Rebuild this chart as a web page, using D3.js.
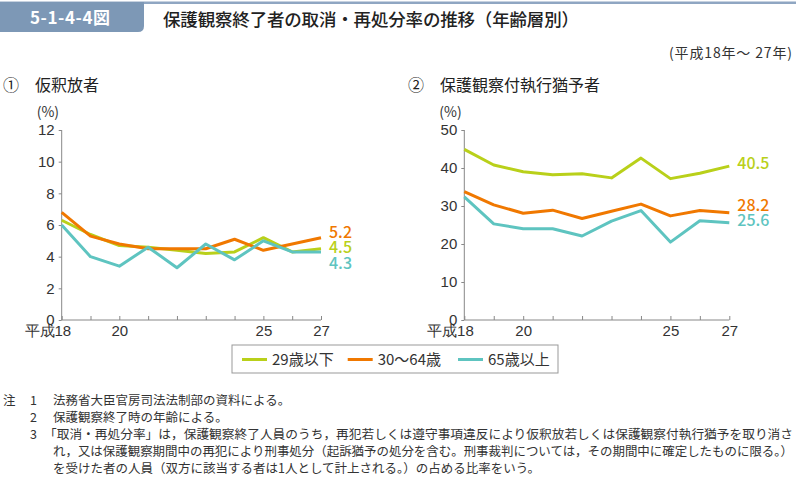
<!DOCTYPE html>
<html><head><meta charset="utf-8">
<script src="https://cdn.jsdelivr.net/npm/d3@7"></script>
<style>
body{margin:0;background:#fff;}
svg{display:block;font-family:"Noto Sans CJK JP","Noto Sans",sans-serif;}
</style></head>
<body><svg id="c" width="796" height="477"></svg>
<script>
const years = [18,19,20,21,22,23,24,25,26,27];
const labeledYears = [18,20,25,27];
const seriesNames = ["29歳以下","30～64歳","65歳以上"];
const seriesColors = ["#b9d01a","#f07800","#5ec4c0"];

// ① 仮釈放者
const parole29 = [6.3, 5.4, 4.7, 4.6, 4.4, 4.2, 4.3, 5.2, 4.3, 4.5];
const parole30 = [6.8, 5.3, 4.8, 4.5, 4.5, 4.5, 5.1, 4.4, 4.8, 5.2];
const parole65 = [6.0, 4.0, 3.4, 4.6, 3.3, 4.8, 3.8, 5.0, 4.3, 4.3];
const paroleTicks = [0,2,4,6,8,10,12];

// ② 保護観察付執行猶予者
const susp29 = [44.9, 40.8, 39.0, 38.2, 38.5, 37.4, 42.6, 37.2, 38.6, 40.5];
const susp30 = [33.8, 30.3, 28.1, 28.9, 26.7, 28.6, 30.5, 27.4, 28.8, 28.2];
const susp65 = [32.4, 25.3, 24.0, 24.0, 22.1, 26.0, 28.8, 20.5, 26.1, 25.6];
const suspTicks = [0,10,20,30,40,50];

const notes = [
 ["注","1","法務省大臣官房司法法制部の資料による。"],
 ["","2","保護観察終了時の年齢による。"],
 ["","3","「取消・再処分率」は，保護観察終了人員のうち，再犯若しくは遵守事項違反により仮釈放若しくは保護観察付執行猶予を取り消さ"],
 ["","","れ，又は保護観察期間中の再犯により刑事処分（起訴猶予の処分を含む。刑事裁判については，その期間中に確定したものに限る。）"],
 ["","","を受けた者の人員（双方に該当する者は1人として計上される。）の占める比率をいう。"]
];

const svg = d3.select("#c");

// header
svg.append("rect").attr("x",0).attr("y",1.5).attr("width",796).attr("height",2.5).attr("fill","#8fa6c2");
svg.append("path").attr("d","M0,2 H144 V26 Q144,32 138,32 H0 Z").attr("fill","#7d98b6");
svg.append("text").attr("x",30).attr("y",24).attr("font-size",17).attr("font-weight",700)
  .attr("fill","#fff").attr("textLength",80).text("5-1-4-4図");
svg.append("text").attr("x",163).attr("y",26).attr("font-size",17.5).attr("font-weight",500)
  .attr("fill","#222").attr("textLength",416).text("保護観察終了者の取消・再処分率の推移（年齢層別）");
svg.append("text").attr("x",792).attr("y",58).attr("text-anchor","end").attr("font-size",14)
  .attr("fill","#333").attr("textLength",123).text("(平成18年～ 27年)");

function panel(cfg){
  const g = svg.append("g");
  g.append("text").attr("x",cfg.subX).attr("y",91).attr("font-size",16).attr("fill","#222").text(cfg.num);
  g.append("text").attr("x",cfg.subX+32).attr("y",91).attr("font-size",16).attr("fill","#222").text(cfg.title);
  const x = d3.scaleLinear().domain([18,27]).range([cfg.x0,cfg.x1]);
  const y = d3.scaleLinear().domain([0,cfg.max]).range([320,130]);
  // y axis
  const ya = g.append("g").attr("transform",`translate(${cfg.x0},0)`)
    .call(d3.axisLeft(y).tickValues(cfg.ticks).tickSize(3).tickPadding(4));
  ya.select(".domain").attr("stroke","#888").attr("d",`M-0,130V320`);
  ya.selectAll(".tick line").attr("stroke","#888");
  ya.selectAll(".tick text").attr("font-size",15).attr("fill","#333").attr("font-family","inherit");
  // x axis
  const xa = g.append("g").attr("transform","translate(0,320)")
    .call(d3.axisBottom(x).tickValues(years).tickSize(-4)
      .tickFormat(d=>labeledYears.includes(d)?(d===18?"平成18":d):""));
  xa.select(".domain").attr("stroke","#888").attr("d",`M${cfg.x0},0H${cfg.x1}`);
  xa.selectAll(".tick line").attr("stroke","#888");
  xa.selectAll(".tick text").attr("font-size",15).attr("fill","#333").attr("font-family","inherit")
    .attr("y",5).attr("dy","0.75em");
  xa.selectAll(".tick text").filter(d=>d===18).attr("text-anchor","end").attr("x",9);
  g.append("text").attr("x",cfg.x0-25).attr("y",117).attr("font-size",14).attr("fill","#333").text("(%)");
  const line = d3.line().x((d,i)=>x(years[i])).y(d=>y(d));
  cfg.series.forEach((s,i)=>{
    g.append("path").datum(s).attr("d",line).attr("fill","none")
      .attr("stroke",seriesColors[i]).attr("stroke-width",3).attr("stroke-linejoin","round");
  });
  cfg.series.forEach((s,i)=>{
    g.append("text").attr("x",x(27)+cfg.lblDx).attr("y",cfg.lblY[i]).attr("dy","0.35em")
      .attr("font-size",16).attr("font-weight",500).attr("fill",seriesColors[i]).text(s[s.length-1].toFixed(1));
  });
}

panel({num:"①",title:"仮釈放者",subX:3,x0:61.7,x1:321,max:12,ticks:paroleTicks,
  series:[parole29,parole30,parole65],lblDx:8,lblY:[247,232,263]});
panel({num:"②",title:"保護観察付執行猶予者",subX:408,x0:464.3,x1:729.3,max:50,ticks:suspTicks,
  series:[susp29,susp30,susp65],lblDx:8,lblY:[163,205,220]});

// legend
const lg = svg.append("g");
lg.append("rect").attr("x",232).attr("y",345).attr("width",326).attr("height",28)
  .attr("fill","#fff").attr("stroke","#999").attr("stroke-width",1);
const legX = [242,347.7,458];
seriesNames.forEach((n,i)=>{
  lg.append("line").attr("x1",legX[i]).attr("x2",legX[i]+25).attr("y1",359.5).attr("y2",359.5)
    .attr("stroke",seriesColors[i]).attr("stroke-width",3);
  lg.append("text").attr("x",legX[i]+30).attr("y",359.5).attr("dy","0.36em").attr("font-size",15)
    .attr("fill","#333").text(n);
});

// notes
const noteY = [405,422,439,456,473];
notes.forEach((r,i)=>{
  const t = svg.append("g").attr("font-size",12.5).attr("fill","#333");
  if(r[0]) t.append("text").attr("x",3).attr("y",noteY[i]).text(r[0]);
  if(r[1]) t.append("text").attr("x",30).attr("y",noteY[i]).text(r[1]);
  const tx = t.append("text").attr("x",i===2?44:53).attr("y",noteY[i]).text(r[2]);
  if(i===2) tx.attr("textLength",749).attr("lengthAdjust","spacingAndGlyphs");
  if(i===3) tx.attr("textLength",740).attr("lengthAdjust","spacingAndGlyphs");
});
</script></body></html>
